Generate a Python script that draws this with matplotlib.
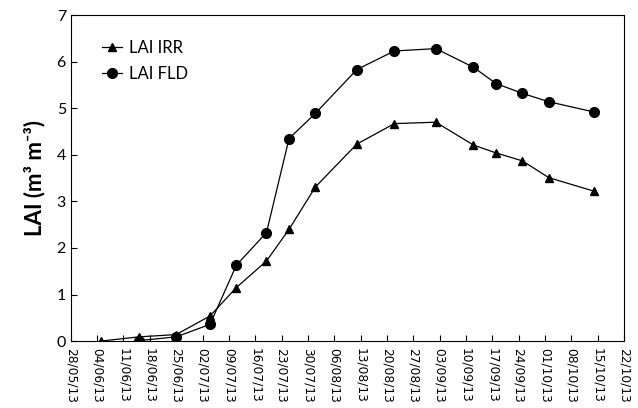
import matplotlib
matplotlib.use("Agg")
import matplotlib.pyplot as plt
import matplotlib.dates as mdates
import numpy as np
import datetime as dt

plt.rcParams['font.family'] = ['Lato', 'DejaVu Sans']

irr_dates = ["2013-06-05", "2013-06-15", "2013-06-25", "2013-07-04", "2013-07-11",
             "2013-07-19", "2013-07-25", "2013-08-01", "2013-08-12", "2013-08-22",
             "2013-09-02", "2013-09-12", "2013-09-18", "2013-09-25", "2013-10-02",
             "2013-10-14"]
irr_vals = [0.0, 0.09, 0.14, 0.54, 1.15, 1.72, 2.40, 3.31, 4.23, 4.67,
            4.70, 4.21, 4.04, 3.87, 3.51, 3.22]

fld_dates = ["2013-06-15", "2013-06-25", "2013-07-04", "2013-07-11",
             "2013-07-19", "2013-07-25", "2013-08-01", "2013-08-12", "2013-08-22",
             "2013-09-02", "2013-09-12", "2013-09-18", "2013-09-25", "2013-10-02",
             "2013-10-14"]
fld_vals = [0.01, 0.09, 0.36, 1.63, 2.33, 4.35, 4.89, 5.83, 6.23,
            6.28, 5.88, 5.53, 5.32, 5.14, 4.92]

to_dt = lambda s: dt.datetime.strptime(s, "%Y-%m-%d")
irr_x = [to_dt(d) for d in irr_dates]
fld_x = [to_dt(d) for d in fld_dates]

fig = plt.figure(figsize=(6.38, 4.08), dpi=100)
ax = fig.add_axes([0.111, 0.164, 0.867, 0.799])

ax.plot(irr_x, irr_vals, color='black', lw=0.9, marker='^', markersize=6, label='LAI IRR')
ax.plot(fld_x, fld_vals, color='black', lw=0.9, marker='o', markersize=7, label='LAI FLD')

start = dt.datetime(2013, 5, 28)
end = dt.datetime(2013, 10, 22)
ax.set_xlim(start, end)
ticks = [start + dt.timedelta(days=7 * i) for i in range(22)]
ax.set_xticks(ticks)
ax.xaxis.set_major_formatter(mdates.DateFormatter('%d/%m/%y'))

ax.set_ylim(0, 7)
ax.set_yticks(range(0, 8))
ax.tick_params(axis='both', direction='in', length=4, width=0.8)
ax.tick_params(axis='x', pad=5)
for lab in ax.get_xticklabels():
    lab.set_rotation(-90)
    lab.set_fontsize(8.8)
    lab.set_family(['DejaVu Sans'])
for lab in ax.get_yticklabels():
    lab.set_fontsize(11.5)
    lab.set_family(['Lato', 'DejaVu Sans'])

ax.set_ylabel('LAI (m\u00b3 m\u207b\u00b3)', fontsize=16, fontweight='bold',
              family=['Lato', 'DejaVu Sans'], labelpad=8)

for sp in ax.spines.values():
    sp.set_linewidth(0.8)

ax.legend(loc='upper left', frameon=False, fontsize=12, handlelength=1.2,
          bbox_to_anchor=(0.03, 0.97), handletextpad=0.4, labelspacing=0.6)

fig.savefig('out.png', dpi=100)
